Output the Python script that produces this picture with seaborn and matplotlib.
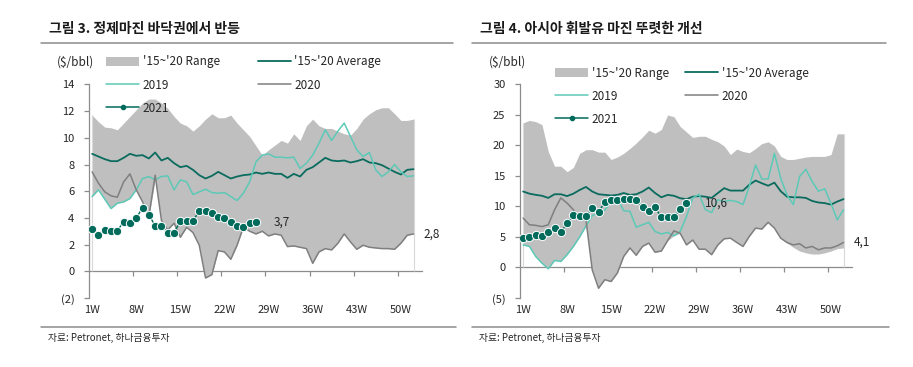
import matplotlib
matplotlib.use("Agg")
import matplotlib.pyplot as plt
import seaborn as sns
from matplotlib.lines import Line2D
from matplotlib.patches import Patch

# %% data
weeks = list(range(1, 53))
label_weeks = [1, 8, 15, 22, 29, 36, 43, 50]
week_labels = ['1W', '8W', '15W', '22W', '29W', '36W', '43W', '50W']
boundary_weeks = [7.5, 14.5, 21.5, 28.5, 35.5, 42.5, 49.5]
series_labels = ["'15~'20 Range", "2019", "2021", "'15~'20 Average", "2020"]

# 그림 3. 정제마진 ($/bbl)
gm_hi = [11.7, 11.2, 10.8, 10.75, 10.6, 11.1, 11.6, 12.1, 12.6, 12.9,
         12.9, 12.6, 12.2, 11.6, 11.1, 10.9, 10.5, 10.9, 11.4, 11.8,
         11.5, 11.5, 11.7, 11.1, 10.6, 10.1, 9.4, 8.7, 9.1, 9.45,
         9.8, 9.6, 10.3, 9.8, 10.9, 11.4, 10.9, 10.7, 10.7, 10.5,
         10.3, 10.2, 10.7, 11.4, 11.8, 12.1, 12.25, 12.25, 11.8, 11.3,
         11.3, 11.4]
gm_lo = [5.6, 6.1, 5.4, 4.7, 5.1, 5.2, 5.45, 6.1, 5.2, 4.1,
         6.85, 3.8, 3.1, 3.6, 2.55, 3.3, 2.9, 1.95, -0.5, -0.25,
         1.55, 1.45, 0.9, 1.95, 3.3, 3.0, 2.8, 3.0, 2.65, 2.8,
         2.7, 1.85, 1.9, 1.8, 1.7, 0.6, 1.45, 1.7, 1.6, 2.1,
         2.8, 2.2, 1.65, 1.95, 1.8, 1.75, 1.7, 1.7, 1.65, 2.1,
         2.7, 2.8]
gm_avg = [8.8, 8.6, 8.4, 8.25, 8.25, 8.5, 8.8, 8.65, 8.7, 8.45,
          8.9, 8.3, 8.5, 8.1, 7.8, 7.9, 7.6, 7.2, 6.95, 7.15,
          7.45, 7.2, 6.95, 7.1, 7.2, 7.25, 7.4, 7.3, 7.4, 7.3,
          7.3, 7.0, 7.3, 7.1, 7.6, 7.8, 8.15, 8.5, 8.3, 8.25,
          8.3, 8.15, 8.25, 8.4, 8.15, 8.1, 7.95, 7.7, 7.45, 7.25,
          7.6, 7.65]
gm_2019 = [5.6, 6.1, 5.4, 4.7, 5.1, 5.2, 5.45, 6.1, 6.95, 7.1,
           6.85, 7.1, 7.15, 6.1, 6.85, 6.7, 5.75, 5.95, 6.15, 5.9,
           5.85, 5.9, 5.6, 5.3, 5.85, 6.7, 8.2, 8.7, 8.8, 8.55,
           8.55, 8.5, 8.55, 7.7, 8.1, 8.7, 9.6, 10.6, 9.8, 10.5,
           11.1, 10.1, 9.1, 8.6, 8.9, 7.6, 7.1, 7.45, 8.0, 7.45,
           7.1, 7.15]
gm_2020 = [7.45, 6.6, 5.95, 5.65, 5.55, 6.7, 7.3, 6.1, 5.2, 4.1,
           7.2, 3.8, 3.1, 3.6, 2.55, 3.3, 2.9, 1.95, -0.5, -0.25,
           1.55, 1.45, 0.9, 1.95, 3.3, 3.0, 2.8, 3.0, 2.65, 2.8,
           2.7, 1.85, 1.9, 1.8, 1.7, 0.6, 1.45, 1.7, 1.6, 2.1,
           2.8, 2.2, 1.65, 1.95, 1.8, 1.75, 1.7, 1.7, 1.65, 2.1,
           2.7, 2.8]
gm_2021 = [3.2, 2.7, 3.1, 3.05, 3.05, 3.7, 3.6, 4.0, 4.75, 4.25,
           3.4, 3.4, 2.9, 2.9, 3.75, 3.75, 3.8, 4.5, 4.5, 4.4,
           4.1, 4.0, 3.7, 3.4, 3.35, 3.65, 3.7]

# 그림 4. 아시아 휘발유 마진 ($/bbl)
gs_hi = [23.7, 24.1, 23.9, 23.4, 19.0, 16.6, 16.6, 15.7, 16.4, 18.7,
         19.3, 19.3, 18.9, 18.9, 17.7, 18.1, 18.7, 19.5, 20.4, 21.4,
         22.5, 22.0, 22.6, 25.0, 24.7, 23.1, 22.2, 21.3, 21.5, 21.5,
         21.0, 20.6, 19.9, 18.5, 19.4, 19.0, 18.8, 19.5, 20.3, 20.6,
         19.9, 18.2, 17.7, 17.7, 17.9, 18.1, 18.2, 18.2, 18.2, 18.5,
         21.9, 21.9]
gs_lo = [3.7, 3.45, 1.8, 0.7, -0.2, 1.15, 1.0, 2.1, 3.45, 5.0,
         6.8, -0.4, -3.4, -2.0, -2.3, -0.9, 1.8, 3.2, 2.0, 3.45,
         4.0, 2.5, 2.7, 4.4, 5.2, 5.6, 3.7, 4.5, 3.0, 3.0,
         2.1, 3.7, 4.7, 4.8, 4.1, 3.45, 5.1, 6.45, 6.3, 7.4,
         6.45, 4.8, 4.0, 3.3, 2.7, 2.4, 2.2, 2.2, 2.4, 2.7,
         3.1, 3.2]
gs_avg = [12.45, 12.1, 11.9, 11.75, 11.4, 12.0, 12.0, 11.7, 12.1, 12.7,
          13.2, 12.45, 12.0, 11.9, 11.8, 11.9, 12.2, 11.9, 12.0, 12.45,
          13.1, 12.2, 11.5, 11.9, 11.75, 11.35, 11.2, 11.6, 11.7, 11.6,
          11.4, 12.2, 13.0, 12.6, 12.6, 12.6, 13.55, 14.25, 13.8, 13.4,
          13.9, 12.5, 11.6, 11.5, 11.5, 11.4, 10.9, 10.65, 10.55, 10.3,
          10.8, 11.2]
gs_2019 = [3.7, 3.45, 1.8, 0.7, -0.2, 1.15, 1.0, 2.1, 3.45, 5.0,
           6.8, 8.5, 8.9, 9.4, 10.8, 11.3, 9.3, 9.2, 6.6, 7.0,
           7.4, 5.9, 5.5, 5.75, 5.2, 5.9, 8.35, 11.4, 12.0, 9.5,
           9.0, 11.1, 10.8, 11.0, 10.8, 10.3, 13.3, 16.8, 14.5, 14.5,
           18.7, 14.6, 11.9, 10.3, 14.9, 16.1, 14.1, 12.5, 12.9, 10.5,
           7.8, 9.45]
gs_2020 = [8.1, 7.0, 6.9, 6.7, 7.0, 9.45, 11.4, 10.55, 9.45, 8.1,
           7.8, -0.4, -3.4, -2.0, -2.3, -0.9, 1.8, 3.2, 2.0, 3.45,
           4.0, 2.5, 2.7, 4.4, 6.0, 5.6, 3.7, 4.5, 3.0, 3.0,
           2.1, 3.7, 4.7, 4.8, 4.1, 3.45, 5.1, 6.45, 6.3, 7.4,
           6.45, 4.8, 4.1, 3.7, 3.9, 3.2, 3.45, 2.9, 3.2, 3.2,
           3.55, 4.1]
gs_2021 = [4.8, 5.0, 5.3, 5.1, 5.75, 6.4, 5.8, 7.25, 8.6, 8.45,
           8.45, 9.7, 9.1, 10.7, 11.1, 11.1, 11.25, 11.25, 11.1, 9.85,
           9.3, 9.9, 8.2, 8.2, 8.2, 9.6, 10.6]

# %% style
sns.set_theme(style="white")
plt.rcParams['font.family'] = ['Noto Sans CJK KR', 'DejaVu Sans']

C_RANGE = '#BFBFBF'
C_AVG = '#0A6B5E'
C_2019 = '#5CC9B7'
C_2020 = '#7F7F7F'
C_2021 = '#006B5B'
C_AXIS = '#8C8C8C'
C_TEXT = '#262626'

fig = plt.figure(figsize=(9.13, 3.67), dpi=100)
W, H = 913, 367


def draw_panel(ax, hi, lo, avg, y19, y20, y21, ylim, ystep):
    ax.fill_between(weeks, lo, hi, color=C_RANGE, linewidth=0, zorder=1)
    # thin edges at both ends of the range area
    ax.vlines([weeks[0], weeks[-1]], 0, [hi[0], hi[-1]], color='#D9D9D9',
              linewidth=0.8, zorder=1)
    sns.lineplot(x=weeks, y=avg, ax=ax, color=C_AVG, linewidth=1.3, zorder=3)
    sns.lineplot(x=weeks, y=y19, ax=ax, color=C_2019, linewidth=1.1, zorder=3)
    sns.lineplot(x=weeks, y=y20, ax=ax, color=C_2020, linewidth=1.1, zorder=3)
    sns.lineplot(x=weeks[:len(y21)], y=y21, ax=ax, color=C_2021, linewidth=1.0,
                 marker='o', markersize=6, markeredgecolor='white',
                 markeredgewidth=0.7, zorder=4)

    ax.set_xlim(0.5, 53.3)
    ax.set_ylim(*ylim)
    yt = list(range(ylim[0], ylim[1] + 1, ystep))
    ax.set_yticks(yt)
    ax.set_yticklabels([f'({abs(v)})' if v < 0 else str(v) for v in yt])
    ax.set_xticks(label_weeks)
    ax.set_xticklabels(week_labels)
    ax.tick_params(axis='x', length=0, pad=5, labelsize=8, labelcolor=C_TEXT)
    ax.tick_params(axis='y', length=3.5, width=0.9, color=C_AXIS, direction='out',
                   pad=7, labelsize=8, labelcolor=C_TEXT, left=True)
    for s in ['top', 'right', 'bottom']:
        ax.spines[s].set_visible(False)
    ax.spines['left'].set_color(C_AXIS)
    ax.spines['left'].set_linewidth(0.9)
    ax.set_xlabel('')
    ax.set_ylabel('')

    # axis line at zero with category boundary ticks
    zero_ax = ax.secondary_xaxis((0 - ylim[0]) / (ylim[1] - ylim[0]))
    zero_ax.set_xticks(boundary_weeks)
    zero_ax.set_xticklabels([])
    zero_ax.tick_params(length=3.5, width=0.9, color=C_AXIS, direction='out')
    zero_ax.spines['bottom'].set_color(C_AXIS)
    zero_ax.spines['bottom'].set_linewidth(0.9)

    # end labels
    ax.annotate(f'{y21[-1]:.1f}'.replace('.', ','), (len(y21), y21[-1]),
                xytext=(13, 0), textcoords='offset points', va='center',
                fontsize=8.5, color=C_TEXT)
    ax.annotate(f'{y20[-1]:.1f}'.replace('.', ','), (weeks[-1], y20[-1]),
                xytext=(7, 0), textcoords='offset points', va='center',
                fontsize=8.5, color=C_TEXT)


handles = [Patch(facecolor=C_RANGE, edgecolor='none'),
           Line2D([], [], color=C_2019, linewidth=1.1),
           Line2D([], [], color=C_2021, linewidth=1.1, marker='o', markersize=3),
           Line2D([], [], color=C_AVG, linewidth=1.3),
           Line2D([], [], color=C_2020, linewidth=1.1)]

panels = [
    dict(x0=41, x1=453, title='그림 3. 정제마진 바닥권에서 반등', tx=49,
         ax_left=89, ax_right=421.7, leg=(106, 55.5), unit=(57, 62), colsp=3.2,
         data=(gm_hi, gm_lo, gm_avg, gm_2019, gm_2020, gm_2021), ylim=(-2, 14), ystep=2),
    dict(x0=472, x1=886, title='그림 4. 아시아 휘발유 마진 뚜렷한 개선', tx=480,
         ax_left=520, ax_right=851.7, leg=(555, 66.5), unit=(489, 62), colsp=1.4,
         data=(gs_hi, gs_lo, gs_avg, gs_2019, gs_2020, gs_2021), ylim=(-5, 30), ystep=5),
]

for p in panels:
    ax = fig.add_axes([p['ax_left'] / W, 1 - 298 / H,
                       (p['ax_right'] - p['ax_left']) / W, (298 - 84.4) / H])
    ax.patch.set_alpha(0)
    draw_panel(ax, *p['data'], ylim=p['ylim'], ystep=p['ystep'])

    fig.text(p['tx'] / W, 1 - 29 / H, p['title'], fontsize=10, fontweight='bold',
             color='#1a1a1a', va='center')
    fig.add_artist(Line2D([p['x0'] / W, p['x1'] / W], [1 - 43 / H, 1 - 43 / H],
                          color='#8C8C8C', linewidth=1.1))
    fig.add_artist(Line2D([p['x0'] / W, (p['x1'] + 3) / W], [1 - 327 / H, 1 - 327 / H],
                          color='#8C8C8C', linewidth=1.1))
    fig.text((p['x0'] + 7) / W, 1 - 338 / H, '자료: Petronet, 하나금융투자',
             fontsize=7, color=C_TEXT, va='center')
    fig.text(p['unit'][0] / W, 1 - p['unit'][1] / H, '($/bbl)', fontsize=8.5,
             color=C_TEXT, va='center')

    leg = ax.legend(handles, series_labels, ncol=2, loc='upper left',
                    bbox_to_anchor=(p['leg'][0] / W, 1 - p['leg'][1] / H),
                    bbox_transform=fig.transFigure, frameon=False, fontsize=8.5,
                    handlelength=2.8, handleheight=0.8, handletextpad=0.3,
                    columnspacing=p['colsp'], labelspacing=0.85, borderpad=0,
                    borderaxespad=0)
    for t in leg.get_texts():
        t.set_color(C_TEXT)

fig.savefig('out.png', dpi=100)
